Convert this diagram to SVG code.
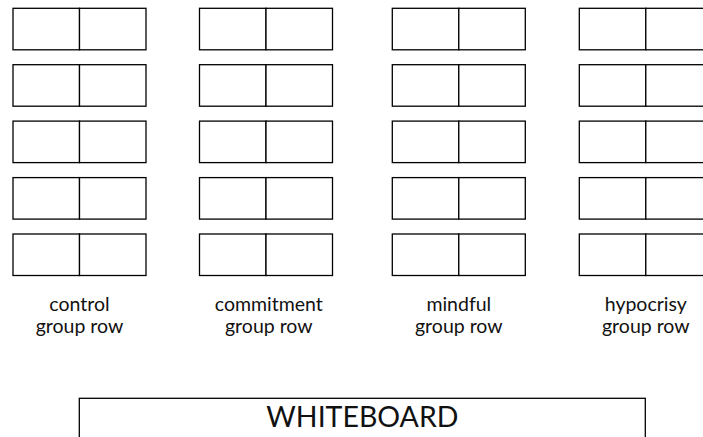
<svg xmlns="http://www.w3.org/2000/svg" width="703" height="437" viewBox="0 0 703 437">
<style>
.desk{fill:#fff;stroke:#000;stroke-width:1.3}
.lbl{font-family:Lato,"Open Sans",sans-serif;font-size:19.5px;fill:#111;text-anchor:middle}
.wb{font-family:Lato,"Open Sans",sans-serif;font-size:28.5px;fill:#111;text-anchor:middle}
</style>
<defs>
<g id="pair">
<rect class="desk" x="0" y="0" width="66.5" height="41.5"/>
<rect class="desk" x="66.5" y="0" width="66.5" height="41.5"/>
</g>
<g id="col">
<use href="#pair" y="8.3"/>
<use href="#pair" y="64.7"/>
<use href="#pair" y="121.1"/>
<use href="#pair" y="177.6"/>
<use href="#pair" y="234"/>
</g>
</defs>
<g id="control">
<use href="#col" x="13"/>
<text class="lbl" x="79.5" y="310.5">control</text>
<text class="lbl" x="79.5" y="332.5">group row</text>
</g>
<g id="commitment">
<use href="#col" x="199.5"/>
<text class="lbl" x="268.8" y="310.5">commitment</text>
<text class="lbl" x="268.8" y="332.5">group row</text>
</g>
<g id="mindful">
<use href="#col" x="392.3"/>
<text class="lbl" x="458.8" y="310.5">mindful</text>
<text class="lbl" x="458.8" y="332.5">group row</text>
</g>
<g id="hypocrisy">
<use href="#col" x="579.3"/>
<text class="lbl" x="645.8" y="310.5">hypocrisy</text>
<text class="lbl" x="645.8" y="332.5">group row</text>
</g>
<g id="whiteboard">
<rect class="desk" x="79.3" y="398.3" width="566" height="60"/>
<text class="wb" x="362.4" y="427.3">WHITEBOARD</text>
</g>
<g id="connectors"/>
</svg>
